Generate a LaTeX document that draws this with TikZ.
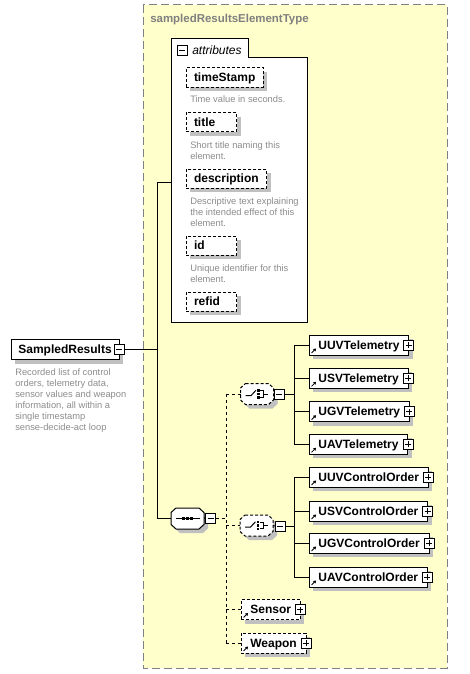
\documentclass[tikz,border=0pt]{standalone}
\usepackage{fontspec}
\setmainfont{Liberation Sans}
\usetikzlibrary{positioning,shadows,arrows.meta}

\definecolor{typeback}{HTML}{FFFFCC}
\definecolor{typeborder}{HTML}{808080}
\definecolor{shadowgray}{HTML}{C0C0C0}
\definecolor{docgray}{HTML}{8C8C8C}

\newcommand{\shortattr}[1]{\makebox[26pt][l]{#1}}
% contorno chanfrado de um compositor
\newcommand{\chamferpath}[1]{([xshift=3.75pt]#1.north west) -- ([xshift=-3.75pt]#1.north east)
  -- ([yshift=-3.4pt]#1.north east) -- ([yshift=3.4pt]#1.south east)
  -- ([xshift=-3.75pt]#1.south east) -- ([xshift=3.75pt]#1.south west)
  -- ([yshift=3.4pt]#1.south west) -- ([yshift=-3.4pt]#1.north west) -- cycle}
% ícone de sequência
\newcommand{\seqicon}[1]{%
  \begin{scope}[shift={(#1.center)}, x=1pt, y=1pt]
    \draw[line width=0.75pt] (-9,0) -- (9,0);
    \foreach \dx in {-3.2,0,3.2} \fill (\dx-1.2,-1.2) rectangle ++(2.4,2.4);
  \end{scope}}
% ícone de escolha
\newcommand{\choiceicon}[1]{%
  \begin{scope}[shift={(#1.center)}, x=1pt, y=1pt, line width=0.75pt]
    \draw (-8.5,-1.2) -- (-4.5,-1.2) -- (-0.8,2.8);
    \foreach \dy in {-2.6,0,2.6} \fill (0,\dy-1) rectangle ++(2,2);
    \draw (2.6,2.4) -- (5.2,2.4) -- (5.2,-2.4) -- (2.6,-2.4) (5.2,0) -- (8.5,0);
  \end{scope}}

\tikzset{
  boxshadow/.style={drop shadow={shadow xshift=3pt, shadow yshift=-3pt, fill=shadowgray, opacity=1}},
  wire/.style={line width=0.75pt},
  optwire/.style={line width=0.75pt, dash pattern=on 2.25pt off 2.25pt},
  smalldash/.style={dash pattern=on 2.25pt off 1.5pt},
  signbox/.style={draw, solid, fill=white, line width=0.6pt, minimum size=7.5pt, inner sep=0pt, outer sep=0pt},
  plusbox/.style={signbox, path picture={
      \draw[line width=0.6pt] ([xshift=1.5pt]path picture bounding box.west) -- ([xshift=-1.5pt]path picture bounding box.east)
        ([yshift=1.5pt]path picture bounding box.south) -- ([yshift=-1.5pt]path picture bounding box.north);}},
  minusbox/.style={signbox, path picture={
      \draw[line width=0.6pt] ([xshift=1.5pt]path picture bounding box.west) -- ([xshift=-1.5pt]path picture bounding box.east);}},
  elem/.style={draw, fill=white, line width=0.75pt, boxshadow, anchor=west, outer sep=0pt,
    font=\fontsize{9}{10}\selectfont\bfseries, inner xsep=7pt, inner ysep=0pt,
    text height=7.5pt, text depth=1.5pt, minimum height=15pt},
  refelem/.style={elem, path picture={
      \draw[solid, line width=0.6pt, -{Triangle[length=2pt, width=2.4pt]}]
        ([shift={(1.9pt,1.5pt)}]path picture bounding box.south west) -- ++(3.4pt,3.4pt);},
    append after command={node[plusbox] at (\tikzlastnode.east) {}}},
  optref/.style={refelem, smalldash},
  attr/.style={elem, smalldash, inner xsep=6pt, minimum height=14.25pt},
  doc/.style={anchor=north west, align=left, inner sep=0pt, text=docgray,
    font=\fontsize{7}{8.25}\selectfont},
  typetitle/.style={anchor=west, inner sep=0pt, text=typeborder,
    font=\fontsize{8.6}{10}\selectfont\bfseries},
  compositor/.style={minimum width=24.75pt, minimum height=15.75pt, inner sep=0pt, outer sep=0pt},
  compframe/.style={draw, fill=white, line width=0.75pt, boxshadow},
}

\begin{document}
\begin{tikzpicture}[x=0.75pt, y=-0.75pt]
    \useasboundingbox (0,0) rectangle (469,674);

    % Tipo complexo (fundo amarelo)
    \draw[typeborder, fill=typeback, line width=0.75pt, dash pattern=on 6pt off 3pt] (143,5) rectangle (447,668);
    \node[typetitle] (typename) at (150,20) {sampledResultsElementType};

    % Caixa de atributos
    \draw[line width=0.75pt, fill=white] (171,322) -- (171,39) -- (248,39) -- (248,58) -- (307,58) -- (307,322) -- cycle;
    \node[minusbox] (attrminus) at (182,50) {};
    \node[anchor=west, inner sep=0pt, font=\fontsize{9}{10}\selectfont\itshape] (attrlabel) at (192,50) {attributes};
    \coordinate (attrin) at (171,182);

    % Atributos e documentação
    \node[attr] (timestamp) at (186,77.5) {timeStamp};
    \node[doc] (timestampdoc) at (190,95) {Time value in seconds.};
    \node[attr] (title) at (186,122) {\shortattr{title}};
    \node[doc] (titledoc) at (190,141) {Short title naming this\\element.};
    \node[attr] (description) at (186,178.5) {description};
    \node[doc] (descriptiondoc) at (190,197) {Descriptive text explaining\\the intended effect of this\\element.};
    \node[attr] (id) at (186,245.5) {\shortattr{id}};
    \node[doc] (iddoc) at (190,264) {Unique identifier for this\\element.};
    \node[attr] (refid) at (186,301.5) {\shortattr{refid}};

    % Elemento raiz
    \node[elem, inner xsep=5.5pt] (sampled) at (11,349.5) {SampledResults};
    \node[minusbox] (sampledminus) at (sampled.east) {};
    \node[doc] (sampleddoc) at (15,368) {Recorded list of control\\orders, telemetry data,\\sensor values and weapon\\information, all within a\\single timestamp\\sense-decide-act loop};

    % Sequência e escolhas
    \node[compositor] (seq) at (187.5,518.5) {};
    \draw[compframe] \chamferpath{seq};
    \seqicon{seq}
    \node[minusbox] (seqminus) at (210.5,518) {};
    \node[compositor] (choiceA) at (257,394) {};
    \draw[compframe, smalldash] \chamferpath{choiceA};
    \choiceicon{choiceA}
    \node[minusbox] (choiceAminus) at (279,394) {};
    \node[compositor] (choiceB) at (256.5,525.5) {};
    \draw[compframe, smalldash] \chamferpath{choiceB};
    \choiceicon{choiceB}
    \node[minusbox] (choiceBminus) at (280,526) {};

    % Elementos referenciados
    \foreach \nm/\yy/\txt in {uuvtel/345/UUVTelemetry, usvtel/378.3/USVTelemetry,
        ugvtel/411.7/UGVTelemetry, uavtel/444.3/UAVTelemetry,
        uuvctl/477/UUVControlOrder, usvctl/511/USVControlOrder,
        ugvctl/543/UGVControlOrder, uavctl/577/UAVControlOrder}
      \node[refelem] (\nm) at (309,\yy) {\txt};
    \node[optref] (sensor) at (241,609.5) {Sensor};
    \node[optref] (weapon) at (241,643) {Weapon};

    % Ligações
    \coordinate (trunk) at (157,349.5);
    \draw[wire] (sampledminus.east) -- (trunk);
    \draw[wire] (attrin) -- (attrin -| trunk) -- (trunk |- seq) -- (seq);
    \draw[wire] (seq) -- (seqminus);
    \coordinate (seqbar) at (226,518);
    \draw[optwire] (seqminus) -- (seqbar);
    \draw[optwire] (seqbar |- choiceA) -- (seqbar |- weapon);
    \foreach \nd in {choiceA,choiceB,sensor,weapon}
      \draw[optwire] (seqbar |- \nd.west) -- (\nd.west);
    \draw[wire] (choiceA) -- (choiceAminus);
    \draw[wire] (choiceB) -- (choiceBminus);
    \coordinate (barA) at (294,394);
    \coordinate (barB) at (294,526);
    \draw[wire] (choiceAminus) -- (barA);
    \draw[wire] (choiceBminus) -- (barB);
    \draw[wire] (barA |- uuvtel.west) -- (barA |- uavtel.west);
    \draw[wire] (barB |- uuvctl.west) -- (barB |- uavctl.west);
    \foreach \nd in {uuvtel,usvtel,ugvtel,uavtel}
      \draw[wire] (barA |- \nd.west) -- (\nd.west);
    \foreach \nd in {uuvctl,usvctl,ugvctl,uavctl}
      \draw[wire] (barB |- \nd.west) -- (\nd.west);
\end{tikzpicture}
\end{document}
